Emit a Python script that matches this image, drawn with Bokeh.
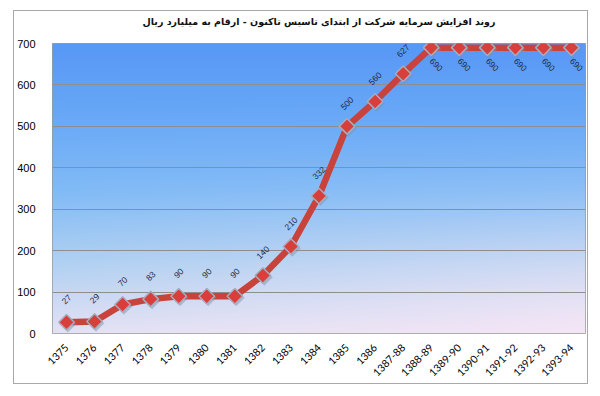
import numpy as np
from math import pi
from bokeh.plotting import figure
from bokeh.models import FixedTicker, ColumnDataSource, Title
from bokeh.core.properties import value
from bokeh.transform import dodge
from bokeh.embed import file_html
from bokeh.resources import INLINE

# ---- data ----
categories = ["1375", "1376", "1377", "1378", "1379", "1380", "1381", "1382",
              "1383", "1384", "1385", "1386", "1387-88", "1388-89", "1389-90",
              "1390-91", "1391-92", "1392-93", "1393-94"]
capital = [27, 29, 70, 83, 90, 90, 90, 140, 210, 332, 500, 560, 627,
           690, 690, 690, 690, 690, 690]
y_ticks = [0, 100, 200, 300, 400, 500, 600, 700]
title_text = "روند افزایش سرمایه شرکت از ابتدای تاسیس تاکنون - ارقام به میلیارد ریال"

xs = list(range(len(categories)))
n = len(categories)

p = figure(width=575, height=374, output_backend="svg", toolbar_location=None,
           x_range=(-0.5, n - 0.5), y_range=(0, 700),
           min_border_left=32, min_border_right=4, min_border_top=32,
           min_border_bottom=52,
           styles={"border": "1px solid #a8a8a8", "margin-left": "13px",
                   "margin-top": "10px"})
p.background_fill_color = "#ffffff"
p.border_fill_color = "#ffffff"
p.outline_line_color = "#9a9a9a"
p.outline_line_width = 1

# title (a blank spacer title sits between it and the plot area)
p.add_layout(Title(text="\u00a0", text_font_size="13px", standoff=0), "above")
p.title.text = title_text
p.title.align = "center"
p.title.vertical_align = "bottom"
p.title.text_font = "DejaVu Sans"
p.title.text_font_size = "9.5px"
p.title.text_font_style = "bold"
p.title.text_color = "#111111"
p.title.standoff = 0

# background gradient (plot area)
H, W = 300, 540
t = np.linspace(0, 1, H)[:, None]          # 0 bottom -> 1 top
u = np.linspace(0, 1, W)[None, :]          # 0 left -> 1 right
stops_t = [0.0, 0.25, 0.5, 0.75, 1.0]
stops_c = np.array([[228, 226, 244], [175, 208, 242], [128, 186, 246],
                    [104, 168, 247], [88, 152, 246]], dtype=float)
tt = np.broadcast_to(t, (H, W))
img = np.zeros((H, W, 4), dtype=np.uint8)
chan = []
for k in range(3):
    chan.append(np.interp(tt, stops_t, stops_c[:, k]))
pink = np.array([246, 230, 246], dtype=float)
wgt = np.clip((1 - tt) ** 3 * u * 0.9, 0, 1)
for k in range(3):
    c = chan[k] * (1 - wgt) + pink[k] * wgt
    img[:, :, k] = np.clip(c, 0, 255).astype(np.uint8)
img[:, :, 3] = 255
rgba = img.view(dtype=np.uint32).reshape(H, W)
p.image_rgba(image=[rgba], x=-0.5, y=0, dw=n, dh=700, level="image")

# grid & axes
p.xgrid.grid_line_color = None
p.ygrid.grid_line_color = "#8e8e8e"
p.ygrid.grid_line_width = 1
p.ygrid.level = "underlay"

p.yaxis.ticker = FixedTicker(ticks=y_ticks)
p.yaxis.axis_line_color = None
p.yaxis.major_tick_line_color = None
p.yaxis.minor_tick_line_color = None
p.yaxis.major_label_standoff = 11
p.yaxis.major_label_text_font = "Liberation Sans"
p.yaxis.major_label_text_font_size = "11px"
p.yaxis.major_label_text_color = "#000000"

p.xaxis.ticker = FixedTicker(ticks=xs)
p.xaxis.major_label_overrides = {i: c for i, c in enumerate(categories)}
p.xaxis.major_label_orientation = pi / 4
p.xaxis.axis_line_color = None
p.xaxis.major_tick_line_color = None
p.xaxis.minor_tick_line_color = None
p.xaxis.major_label_standoff = 6
p.xaxis.major_label_text_font = "Lato"
p.xaxis.major_label_text_font_size = "10.5px"
p.xaxis.major_label_text_color = "#000000"

# series
top = max(capital)
src = ColumnDataSource(dict(
    x=xs, y=capital, lbl=[str(v) for v in capital],
    yoff=[17 if v == top else -23 for v in capital],
    xoff=[5 if v == top else 0 for v in capital],
    ang=[-pi / 4 if v == top else pi / 4 for v in capital],
))
p.line("x", "y", source=src, line_color="#c9433d", line_width=6.5,
       line_join="round", line_cap="round")
# marker shadow
p.scatter(dodge("x", 0.05), dodge("y", -4), source=src, marker="square",
          angle=pi / 4, size=12, fill_color="#7f8fa8", fill_alpha=0.45,
          line_color=None)
p.scatter("x", "y", source=src, marker="square", angle=pi / 4, size=11,
          fill_color="#d93f3a", line_color="#a4adbd", line_width=1.5)

p.text("x", "y", text="lbl", source=src, angle="ang",
       x_offset="xoff", y_offset="yoff",
       text_align="center", text_baseline="middle",
       text_font=value("Liberation Sans"), text_font_size="8.5px",
       text_color="#1d2a44")

open("out.html", "w").write(file_html(p, INLINE))
